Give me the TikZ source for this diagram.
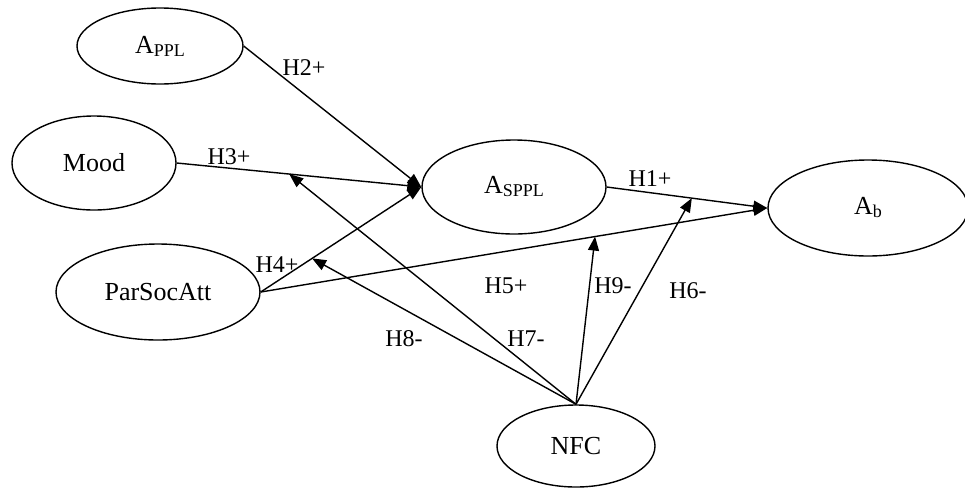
\documentclass[tikz,border=0pt]{standalone}
\usepackage{fontspec}
\setmainfont{Liberation Serif}
\usetikzlibrary{arrows.meta,calc,shapes.geometric}
\newcommand{\subtxt}[1]{\raisebox{-3pt}{\fontsize{18}{18}\selectfont #1}}
\begin{document}
\begin{tikzpicture}[x=1pt,y=-1pt,
  construct/.style={draw,ellipse,line width=1.4pt,inner sep=0pt,font=\fontsize{26}{30}\selectfont},
  conn/.style={line width=1.4pt,-{Triangle[length=14pt,width=11pt]}},
  hlabel/.style={font=\fontsize{24}{28}\selectfont,inner sep=0pt}]
\useasboundingbox (0,0) rectangle (965,490);
\node[construct,minimum width=166pt,minimum height=76pt] (appl) at (160,46) {A\subtxt{PPL}};
\node[construct,minimum width=164pt,minimum height=94pt] (mood) at (94,163) {Mood};
\node[construct,minimum width=204pt,minimum height=96pt] (psa) at (158,292) {ParSocAtt};
\node[construct,minimum width=184pt,minimum height=94pt] (asppl) at (514,187) {A\subtxt{SPPL}};
\node[construct,minimum width=200pt,minimum height=96pt] (ab) at (868,208) {A\subtxt{b}};
\node[construct,minimum width=158pt,minimum height=82pt] (nfc) at (576,446) {NFC};
\coordinate (t7) at ($(mood.east)!0.46!(asppl.west)$);
\coordinate (t8) at ($(psa.east)!0.32!(asppl.west)$);
\coordinate (t9) at ($(psa.east)!0.66!(ab.west)$);
\coordinate (t6) at ($(asppl.east)!0.53!(ab.west)$);
\draw[conn] (appl.east) -- (asppl.west);
\draw[conn] (mood.east) -- (asppl.west);
\draw[conn] (psa.east) -- (asppl.west);
\draw[conn] (psa.east) -- (ab.west);
\draw[conn] (asppl.east) -- (ab.west);
\draw[conn] (nfc.north) -- (t7);
\draw[conn] (nfc.north) -- (t8);
\draw[conn] (nfc.north) -- (t9);
\draw[conn] (nfc.north) -- (t6);
\node[hlabel] (h2) at (304,68) {H2+};
\node[hlabel] (h3) at (229,157) {H3+};
\node[hlabel] (h1) at (650,179) {H1+};
\node[hlabel] (h4) at (277,265) {H4+};
\node[hlabel] (h5) at (506,286) {H5+};
\node[hlabel] (h9) at (613,286) {H9-};
\node[hlabel] (h6) at (688,291) {H6-};
\node[hlabel] (h8) at (404,339) {H8-};
\node[hlabel] (h7) at (526,339) {H7-};
\end{tikzpicture}
\end{document}
